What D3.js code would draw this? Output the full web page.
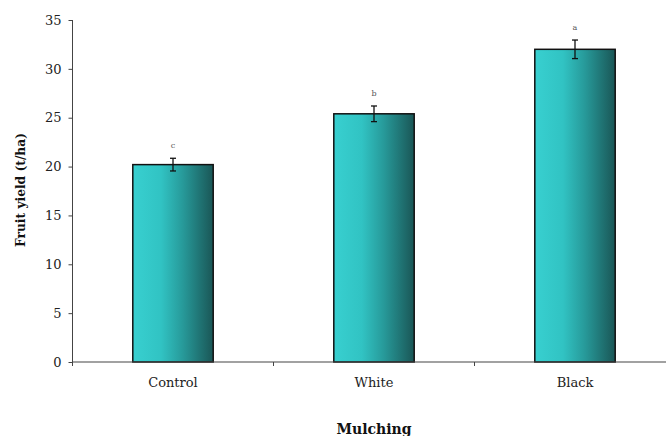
<!DOCTYPE html>
<html>
<head>
<meta charset="utf-8">
<script src="https://cdn.jsdelivr.net/npm/d3@7"></script>
<style>
  html, body { margin: 0; padding: 0; background: #fff; }
  svg { display: block; }
</style>
</head>
<body>
<svg id="chart" width="666" height="436"></svg>
<script>
const categories = ["Control", "White", "Black"];
const yieldValues = [20.2, 25.4, 32.0];
const errorValues = [0.65, 0.8, 0.95];
const letters = ["c", "b", "a"];
const yTicks = [0, 5, 10, 15, 20, 25, 30, 35];
const xTitle = "Mulching";
const yTitle = "Fruit yield (t/ha)";

const svg = d3.select("#chart");
const mLeft = 72.5, mRight = 675.5, mTop = 20, mBottom = 362;

const x = d3.scaleBand().domain(categories).range([mLeft, mRight])
  .paddingInner(0.6).paddingOuter(0.3);
const xOuter = d3.scaleBand().domain(categories).range([mLeft, mRight]).padding(0);
const y = d3.scaleLinear().domain([0, 35]).range([mBottom, mTop]);

const defs = svg.append("defs");
const grad = defs.append("linearGradient").attr("id", "barGrad")
  .attr("x1", "0%").attr("x2", "100%").attr("y1", "0%").attr("y2", "0%");
[["0%", "#38d0d0"], ["35%", "#31c3c3"], ["62%", "#279a9a"], ["100%", "#1a5656"]]
  .forEach(([o, c]) => grad.append("stop").attr("offset", o).attr("stop-color", c));

const font = "'DejaVu Serif', serif";

// bars
const data = categories.map((c, i) => ({ c, v: yieldValues[i], e: errorValues[i], l: letters[i] }));
svg.selectAll("rect.bar").data(data).enter().append("rect")
  .attr("class", "bar")
  .attr("x", d => x(d.c))
  .attr("y", d => y(d.v))
  .attr("width", x.bandwidth())
  .attr("height", d => y(0) - y(d.v))
  .attr("fill", "url(#barGrad)")
  .attr("stroke", "#111")
  .attr("stroke-width", 1.5);

// error bars
const eb = svg.selectAll("g.err").data(data).enter().append("g").attr("class", "err")
  .attr("stroke", "#111").attr("stroke-width", 1.3);
eb.append("line")
  .attr("x1", d => x(d.c) + x.bandwidth() / 2).attr("x2", d => x(d.c) + x.bandwidth() / 2)
  .attr("y1", d => y(d.v + d.e)).attr("y2", d => y(d.v - d.e));
eb.append("line")
  .attr("x1", d => x(d.c) + x.bandwidth() / 2 - 3).attr("x2", d => x(d.c) + x.bandwidth() / 2 + 3)
  .attr("y1", d => y(d.v + d.e)).attr("y2", d => y(d.v + d.e));
eb.append("line")
  .attr("x1", d => x(d.c) + x.bandwidth() / 2 - 3).attr("x2", d => x(d.c) + x.bandwidth() / 2 + 3)
  .attr("y1", d => y(d.v - d.e)).attr("y2", d => y(d.v - d.e));

// letters
svg.selectAll("text.letter").data(data).enter().append("text")
  .attr("class", "letter")
  .attr("x", d => x(d.c) + x.bandwidth() / 2)
  .attr("y", d => y(d.v + d.e) - 10)
  .attr("text-anchor", "middle")
  .attr("font-family", font).attr("font-size", 8).attr("fill", "#555")
  .text(d => d.l);

// y axis
const yAxis = svg.append("g").attr("transform", `translate(${mLeft},0)`)
  .call(d3.axisLeft(y).tickValues(yTicks).tickSize(4).tickPadding(7));
yAxis.select(".domain").attr("stroke", "#444").attr("d", `M0,${mTop}V${mBottom}`);
yAxis.selectAll(".tick line").attr("stroke", "#444");
yAxis.selectAll("text").attr("font-family", font).attr("font-size", 13).attr("fill", "#222");

// x axis
const xg = svg.append("g");
xg.append("line").attr("x1", mLeft).attr("x2", mRight).attr("y1", mBottom).attr("y2", mBottom)
  .attr("stroke", "#444").attr("stroke-width", 1.2);
const bounds = categories.map(c => xOuter(c)).concat([xOuter(categories[categories.length - 1]) + xOuter.bandwidth()]);
xg.selectAll("line.xt").data(bounds).enter().append("line").attr("class", "xt")
  .attr("x1", d => d).attr("x2", d => d).attr("y1", mBottom).attr("y2", mBottom + 4)
  .attr("stroke", "#444");
xg.selectAll("text.cat").data(categories).enter().append("text").attr("class", "cat")
  .attr("x", d => x(d) + x.bandwidth() / 2).attr("y", 387)
  .attr("text-anchor", "middle")
  .attr("font-family", font).attr("font-size", 13).attr("fill", "#222")
  .text(d => d);

// titles
svg.append("text").attr("x", (mLeft + mRight) / 2).attr("y", 434)
  .attr("text-anchor", "middle").attr("font-family", font).attr("font-weight", "bold")
  .attr("font-size", 14).attr("fill", "#111").text(xTitle);
svg.append("text").attr("transform", "translate(25,190) rotate(-90)")
  .attr("text-anchor", "middle").attr("font-family", font).attr("font-weight", "bold")
  .attr("font-size", 13).attr("fill", "#111")
  .attr("textLength", 114).attr("lengthAdjust", "spacingAndGlyphs")
  .text(yTitle);
</script>
</body>
</html>
